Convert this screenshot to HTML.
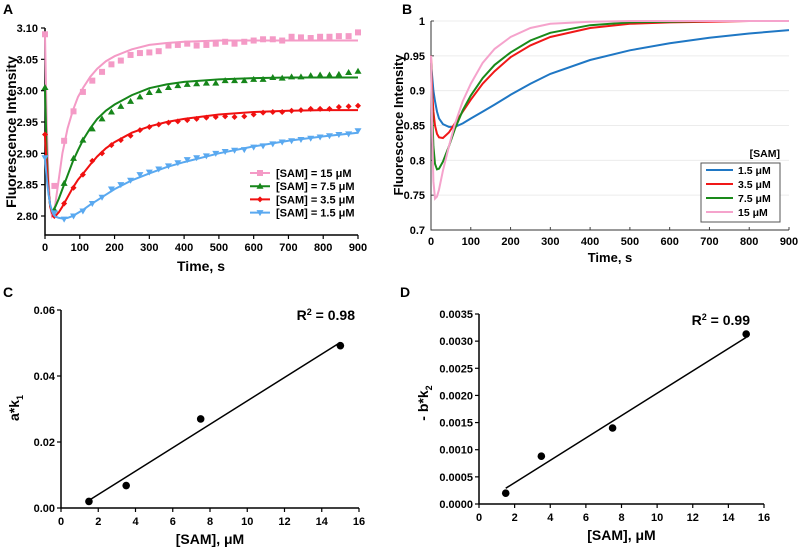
<!DOCTYPE html>
<html><head><meta charset="utf-8"><style>
body{margin:0;background:#fff;width:799px;height:551px;overflow:hidden}
svg{font-family:"Liberation Sans",Arial,sans-serif;font-weight:bold}
</style></head><body>
<svg id="s" width="799" height="551" viewBox="0 0 799 551"></svg>
<script>
// Panel A data
const aFitT=[0,5,10,15,20,25,30,40,50,65,80,95,110,130,150,175,200,250,300,350,400,500,600,700,800,900];
const aFitPink=[3.09,2.95,2.86,2.815,2.80,2.805,2.82,2.86,2.90,2.94,2.968,2.99,3.005,3.022,3.035,3.047,3.055,3.066,3.073,3.076,3.078,3.080,3.080,3.080,3.080,3.080];
const aFitGreen=[3.005,2.90,2.84,2.815,2.808,2.81,2.815,2.828,2.843,2.865,2.887,2.905,2.922,2.94,2.955,2.968,2.978,2.993,3.004,3.010,3.014,3.018,3.020,3.021,3.021,3.021];
const aFitRed=[2.93,2.88,2.84,2.815,2.805,2.80,2.80,2.806,2.815,2.83,2.845,2.858,2.868,2.882,2.895,2.908,2.918,2.933,2.943,2.950,2.955,2.962,2.966,2.968,2.969,2.969];
const aFitBlue=[2.893,2.86,2.835,2.818,2.808,2.802,2.799,2.797,2.796,2.797,2.80,2.805,2.81,2.818,2.825,2.834,2.843,2.857,2.868,2.878,2.886,2.900,2.911,2.920,2.927,2.933];
const aMarkT=[0,27,55,82,109,136,164,191,218,246,273,300,327,355,382,409,436,464,491,518,545,573,600,627,655,682,709,736,764,791,818,845,873,900];
const aPink=[3.09,2.848,2.92,2.967,2.998,3.016,3.03,3.042,3.048,3.057,3.06,3.061,3.063,3.072,3.073,3.075,3.072,3.073,3.075,3.078,3.075,3.078,3.080,3.082,3.082,3.080,3.086,3.085,3.084,3.086,3.086,3.087,3.087,3.093];
const aGreen=[3.005,2.81,2.852,2.892,2.921,2.939,2.955,2.966,2.975,2.983,2.99,2.997,3.0,3.005,3.008,3.01,3.011,3.012,3.012,3.016,3.016,3.016,3.018,3.018,3.021,3.02,3.022,3.022,3.024,3.025,3.025,3.026,3.029,3.031];
const aRed=[2.93,2.80,2.82,2.845,2.866,2.888,2.9,2.913,2.921,2.928,2.937,2.942,2.946,2.949,2.951,2.953,2.955,2.957,2.958,2.959,2.958,2.959,2.962,2.965,2.966,2.966,2.968,2.969,2.971,2.971,2.971,2.974,2.975,2.976];
const aBlue=[2.893,2.805,2.795,2.80,2.808,2.82,2.83,2.843,2.85,2.857,2.866,2.87,2.875,2.88,2.885,2.89,2.893,2.896,2.9,2.903,2.905,2.906,2.91,2.912,2.915,2.918,2.92,2.922,2.924,2.926,2.928,2.93,2.931,2.936];
const aYTicks=[2.80,2.85,2.90,2.95,3.00,3.05,3.10];
const xTicks900=[0,100,200,300,400,500,600,700,800,900];
const aLegend=["[SAM] = 15 \u03bcM","[SAM] = 7.5 \u03bcM","[SAM] = 3.5 \u03bcM","[SAM] = 1.5 \u03bcM"];
// Panel B data
const bT=[0,3,6,10,15,20,30,45,60,80,100,130,160,200,250,300,400,500,600,700,800,900];
const bBlue=[0.94,0.92,0.9,0.885,0.87,0.86,0.852,0.848,0.848,0.853,0.86,0.87,0.88,0.894,0.91,0.924,0.944,0.958,0.968,0.976,0.982,0.987];
const bRed=[0.95,0.9,0.87,0.85,0.838,0.833,0.832,0.84,0.853,0.87,0.887,0.91,0.928,0.948,0.965,0.977,0.99,0.996,0.998,0.999,1,1];
const bGreen=[0.94,0.87,0.82,0.795,0.787,0.788,0.798,0.82,0.845,0.872,0.893,0.918,0.937,0.955,0.972,0.983,0.994,0.998,0.999,1,1,1];
const bPink=[0.95,0.84,0.77,0.745,0.748,0.758,0.785,0.82,0.852,0.885,0.91,0.94,0.96,0.977,0.99,0.996,0.999,1,1,1,1,1];
const bYTicks=[0.7,0.75,0.8,0.85,0.9,0.95,1];
const bYLabels=["0.7","0.75","0.8","0.85","0.9","0.95","1"];
const bLegend=["1.5 \u03bcM","3.5 \u03bcM","7.5 \u03bcM","15 \u03bcM"];
// Panel C/D data
const sam=[1.5,3.5,7.5,15];
const cVals=[0.002,0.0068,0.027,0.0492];
const cFit=[0.0023,0.0502];
const dVals=[0.0002,0.00088,0.0014,0.00313];
const dFit=[0.00029,0.00307];
const samTicks=[0,2,4,6,8,10,12,14,16];
const cYTicks=[0,0.02,0.04,0.06];
const cYLabels=["0.00","0.02","0.04","0.06"];
const dYTicks=[0,0.0005,0.001,0.0015,0.002,0.0025,0.003,0.0035];
const dYLabels=["0.0000","0.0005","0.0010","0.0015","0.0020","0.0025","0.0030","0.0035"];

const S=document.getElementById('s');const NS='http://www.w3.org/2000/svg';
function el(t,a,txt){const e=document.createElementNS(NS,t);for(const k in a)e.setAttribute(k,a[k]);if(txt!==undefined)e.textContent=txt;S.appendChild(e);return e;}
function lin(d0,d1,r0,r1){return v=>r0+(v-d0)/(d1-d0)*(r1-r0);}
function path(xs,ys,X,Y){return xs.map((v,i)=>(i?'L':'M')+X(v).toFixed(1)+','+Y(ys[i]).toFixed(1)).join('');}
function text(x,y,s,size,anchor,name,rot){const a={x:x,y:y,'font-size':size,'text-anchor':anchor||'start',fill:'#000'};if(rot)a.transform='rotate(-90 '+x+' '+y+')';const e=el('text',a,s);

return e;}

// ---------- Panel A ----------
{const X=lin(0,900,45,358),Y=lin(2.80,3.10,216,28);
text(3,14,'A',14,'start','panel-a-label');
let ax=el('path',{d:'M45,28V235H358',fill:'none',stroke:'#000','stroke-width':1.5});


aYTicks.forEach(v=>{el('line',{x1:41,x2:45,y1:Y(v),y2:Y(v),stroke:'#000','stroke-width':1.2});
text(38,Y(v)+4,v.toFixed(2),11,'end','panel-a-y-tick');});
xTicks900.forEach(v=>{el('line',{x1:X(v),x2:X(v),y1:235,y2:239,stroke:'#000','stroke-width':1.2});
text(X(v),251,String(v),11,'middle','panel-a-x-tick');});
text(201,271,'Time, s',14,'middle','panel-a-x-title');
text(16,132,'Fluorescence Intensity',14,'middle','panel-a-y-title',true);
const series=[[aFitPink,aPink,'#f49ac6','sq'],[aFitGreen,aGreen,'#16861a','tri'],[aFitRed,aRed,'#f01010','dia'],[aFitBlue,aBlue,'#5aa9f0','itri']];
function mark(x,y,c,t){let m;
 if(t==='sq')m=el('rect',{x:x-3,y:y-3,width:6,height:6,fill:c});
 else if(t==='tri')m=el('path',{d:`M${x},${y-3.5}L${x+3.5},${y+2.5}L${x-3.5},${y+2.5}Z`,fill:c});
 else if(t==='dia')m=el('path',{d:`M${x},${y-3}L${x+3},${y}L${x},${y+3}L${x-3},${y}Z`,fill:c});
 else m=el('path',{d:`M${x},${y+3.5}L${x+3.5},${y-2.5}L${x-3.5},${y-2.5}Z`,fill:c});
 return m;}
series.forEach((s,k)=>{
 const p=el('path',{d:path(aFitT,s[0],X,Y),fill:'none',stroke:s[2],'stroke-width':2});
 
 
 aMarkT.forEach((t,i)=>{const m=mark(X(t),Y(s[1][i]),s[2],s[3]);
 
 });
 const ly=173+k*13.2;
 el('line',{x1:250,x2:270,y1:ly,y2:ly,stroke:s[2],'stroke-width':2});
 mark(260,ly,s[2],s[3]);
 text(276,ly+4,aLegend[k],11,'start','panel-a-legend-entry');
});}

// ---------- Panel B ----------
{const X=lin(0,900,431,789),Y=lin(0.7,1,230,21);
text(402,14,'B',14,'start','panel-b-label');
bYTicks.forEach((v,i)=>{if(i>0)el('line',{x1:431,x2:789,y1:Y(v),y2:Y(v),stroke:'#ececec','stroke-width':1});
el('line',{x1:431,x2:434,y1:Y(v),y2:Y(v),stroke:'#444'});
text(425,Y(v)+4,bYLabels[i],11,'end','panel-b-y-tick');});
xTicks900.forEach(v=>{el('line',{x1:X(v),x2:X(v),y1:230,y2:227,stroke:'#444'});
text(X(v),245,String(v),11,'middle','panel-b-x-tick');});
let ax=el('path',{d:'M431,21V230H789',fill:'none',stroke:'#333','stroke-width':1});


text(610,262,'Time, s',13,'middle','panel-b-x-title');
text(403,125,'Fluorescence Intensity',13,'middle','panel-b-y-title',true);
const ser=[[bBlue,'#1f77c4'],[bRed,'#f01818'],[bGreen,'#1a8a1a'],[bPink,'#f5a3cc']];
ser.forEach((s,k)=>{const p=el('path',{d:path(bT,s[0],X,Y),fill:'none',stroke:s[1],'stroke-width':2});

});
text(780,157,'[SAM]',10.5,'end','panel-b-legend-title');
let lb=el('rect',{x:701,y:163,width:79,height:59,fill:'#fff',stroke:'#555'});


ser.forEach((s,k)=>{const ly=170+k*14;el('line',{x1:706,x2:733,y1:ly,y2:ly,stroke:s[1],'stroke-width':2});
text(738,ly+4,bLegend[k],10.5,'start','panel-b-legend-entry');});}

// ---------- Panels C & D ----------
function scatter(o){const X=lin(0,16,o.x0,o.x1),Y=lin(o.ymin,o.ymax,o.yb,o.yt);
text(o.lx,o.ly,o.letter,14,'start','panel-'+o.letter.toLowerCase()+'-label');
let ax=el('path',{d:`M${o.x0},${o.yt}V${o.yb}H${o.x1}`,fill:'none',stroke:'#000','stroke-width':1.5});


o.yt_.forEach((v,i)=>{el('line',{x1:o.x0-4,x2:o.x0,y1:Y(v),y2:Y(v),stroke:'#000','stroke-width':1.2});
text(o.x0-6,Y(v)+4,o.yl[i],11,'end','y-tick');});
samTicks.forEach(v=>{el('line',{x1:X(v),x2:X(v),y1:o.yb,y2:o.yb+4,stroke:'#000','stroke-width':1.2});
text(X(v),o.yb+17,String(v),11,'middle','x-tick');});
text((o.x0+o.x1)/2,o.yb+36,'[SAM], \u03bcM',14,'middle','x-axis-title');
const fl=el('line',{x1:X(sam[0]),y1:Y(o.fit[0]),x2:X(sam[3]),y2:Y(o.fit[1]),stroke:'#000','stroke-width':1.5});


sam.forEach((v,i)=>{const c=el('circle',{cx:X(v),cy:Y(o.vals[i]),r:3.8,fill:'#000'});

});
const r=text(o.rx,o.ry,'',14,'end','r-squared');
const t1=document.createElementNS(NS,'tspan');t1.textContent='R';r.appendChild(t1);
const t2=document.createElementNS(NS,'tspan');t2.textContent='2';t2.setAttribute('font-size','9');t2.setAttribute('dy','-5');r.appendChild(t2);
const t3=document.createElementNS(NS,'tspan');t3.textContent=' = '+o.r2;t3.setAttribute('dy','5');r.appendChild(t3);
const yt=text(o.ytx,o.yty,'',14,'middle','y-axis-title',true);
const a1=document.createElementNS(NS,'tspan');a1.textContent=o.ytitle;yt.appendChild(a1);
const a2=document.createElementNS(NS,'tspan');a2.textContent=o.sub;a2.setAttribute('font-size','9');a2.setAttribute('dy','4');yt.appendChild(a2);
}
scatter({letter:'C',lx:3,ly:297,x0:61,x1:359,yt:310,yb:508,ymin:0,ymax:0.06,yt_:cYTicks,yl:cYLabels,vals:cVals,fit:cFit,rx:355,ry:320,r2:'0.98',ytx:19,yty:408,ytitle:'a*k',sub:'1'});
scatter({letter:'D',lx:400,ly:297,x0:479,x1:764,yt:314,yb:504,ymin:0,ymax:0.0035,yt_:dYTicks,yl:dYLabels,vals:dVals,fit:dFit,rx:750,ry:325,r2:'0.99',ytx:428,yty:403,ytitle:'- b*k',sub:'2'});
</script>
</body></html>
